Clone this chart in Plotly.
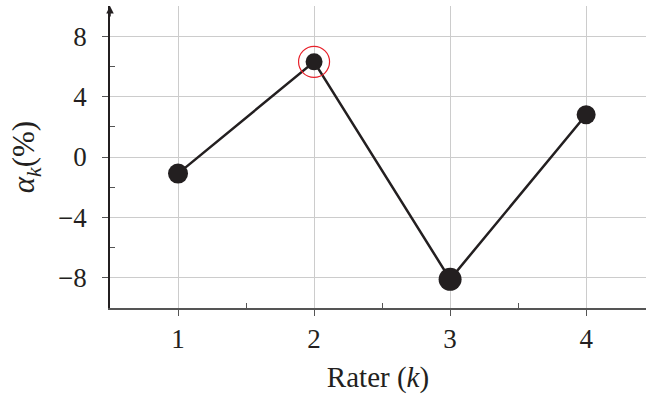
import plotly.graph_objects as go

raters = [1, 2, 3, 4]
alpha = [-1.1, 6.3, -8.1, 2.8]
weights = [20, 17, 23, 19]
highlight = [2]

y_ticks = [-8, -4, 0, 4, 8]
y_ticktext = ["−8", "−4", "0", "4", "8"]
x_ticks = [1, 2, 3, 4]
x_ticktext = ["1", "2", "3", "4"]

FONT = "Liberation Serif"
INK = "#231f20"

fig = go.Figure()
fig.add_trace(go.Scatter(
    x=raters, y=alpha, mode="lines+markers",
    line=dict(color=INK, width=2.5),
    marker=dict(color=INK, size=weights, opacity=1, line=dict(width=0)),
    showlegend=False, hoverinfo="skip",
))
hx = [raters[i] for i, r in enumerate(raters) if r in highlight]
hy = [alpha[i] for i, r in enumerate(raters) if r in highlight]
fig.add_trace(go.Scatter(
    x=hx, y=hy, mode="markers",
    marker=dict(symbol="circle-open", size=31, color="#e8202a", opacity=1,
                line=dict(width=1.2, color="#e8202a")),
    showlegend=False, hoverinfo="skip",
))

fig.update_layout(
    width=646, height=394,
    margin=dict(l=110, r=0, t=6, b=86),
    paper_bgcolor="white", plot_bgcolor="white",
    font=dict(family=FONT, size=27, color=INK),
    xaxis=dict(
        range=[0.5, 4.44], tickvals=x_ticks, ticktext=x_ticktext,
        showgrid=True, gridcolor="#cccccc", gridwidth=1,
        showline=True, linecolor="#555555", linewidth=1.5,
        ticks="outside", ticklen=6, tickcolor="#555555", tickwidth=1,
        zeroline=False, ticklabelstandoff=0,
        minor=dict(tickvals=[1.5, 2.5, 3.5], ticks="inside", ticklen=5, tickcolor="#555555", showgrid=False),
        title=dict(text="Rater (<i>k</i>)", font=dict(size=29), standoff=14),
    ),
    yaxis=dict(
        range=[-10, 10], tickvals=y_ticks, ticktext=y_ticktext,
        showgrid=True, gridcolor="#cccccc", gridwidth=1,
        showline=True, linecolor=INK, linewidth=1.5,
        ticks="outside", ticklen=6, tickcolor="#555555", tickwidth=1,
        zeroline=False, ticklabelstandoff=10,
        minor=dict(tickvals=[-6, -2, 2, 6], ticks="inside", ticklen=5, tickcolor="#555555", showgrid=False),
        title=dict(text="<i>α<sub>k</sub></i>(%)", font=dict(size=31), standoff=14),
    ),
)

fig.add_annotation(
    x=0.5, y=10, xref="x", yref="y", ax=0, ay=12, axref="pixel", ayref="pixel",
    text="", showarrow=True, arrowhead=2, arrowsize=1, arrowwidth=1.5, arrowcolor=INK,
)

fig.write_html("out.html", config={"displayModeBar": False},
               post_script="document.body.style.margin='0';")
